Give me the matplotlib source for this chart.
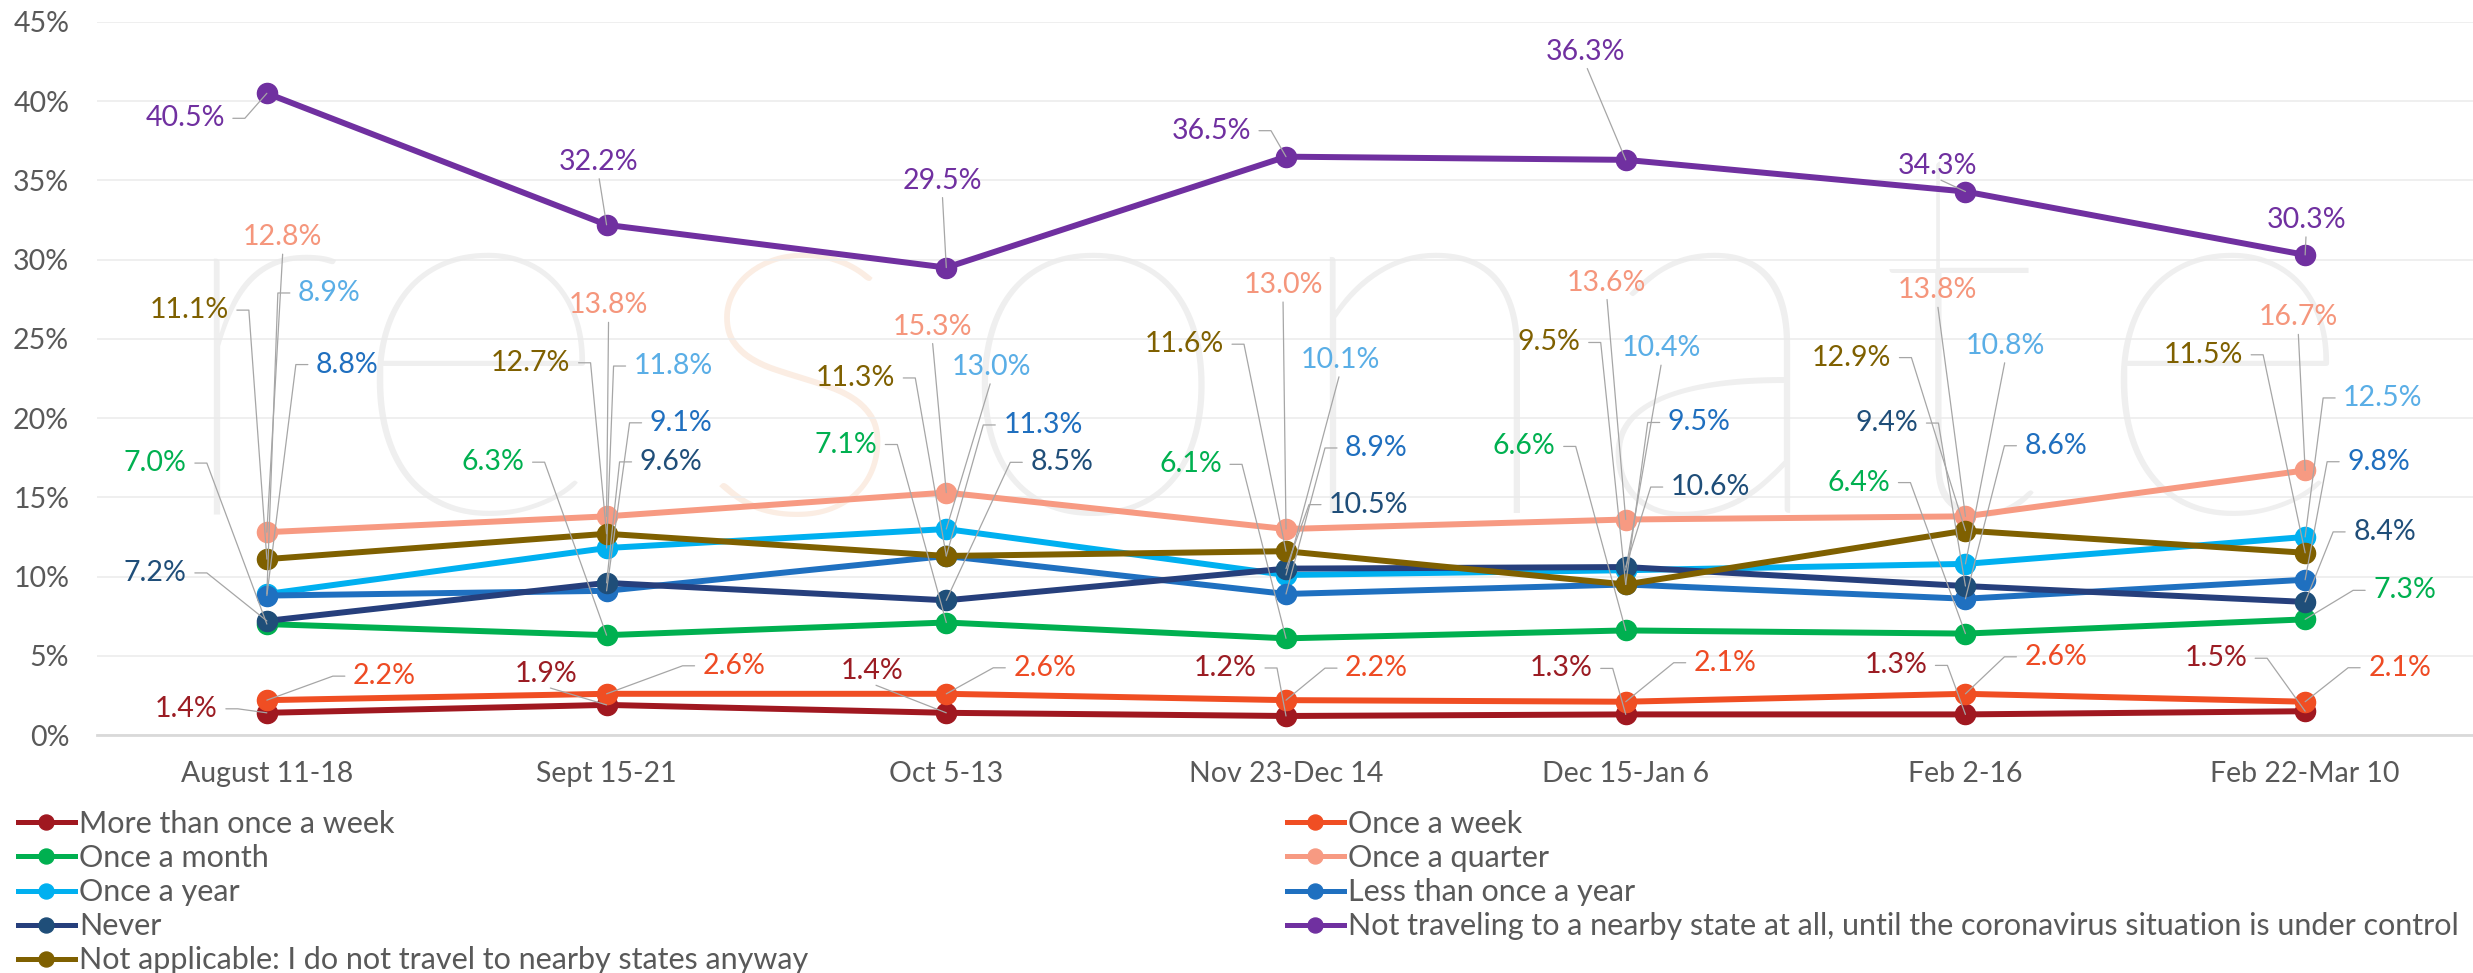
"""
Weekly nearby-state travel frequency survey - line chart with leader-line labels.
"""
import math

import matplotlib

matplotlib.use("Agg")
import matplotlib.pyplot as plt
from matplotlib.lines import Line2D

plt.rcParams["font.family"] = ["Lato", "DejaVu Sans"]

# ---- data -------------------------------------------------------------
categories = ["August 11-18", "Sept 15-21", "Oct 5-13", "Nov 23-Dec 14",
              "Dec 15-Jan 6", "Feb 2-16", "Feb 22-Mar 10"]

more_than_weekly = [1.4, 1.9, 1.4, 1.2, 1.3, 1.3, 1.5]
once_week = [2.2, 2.6, 2.6, 2.2, 2.1, 2.6, 2.1]
once_month = [7.0, 6.3, 7.1, 6.1, 6.6, 6.4, 7.3]
once_quarter = [12.8, 13.8, 15.3, 13.0, 13.6, 13.8, 16.7]
once_year = [8.9, 11.8, 13.0, 10.1, 10.4, 10.8, 12.5]
less_than_year = [8.8, 9.1, 11.3, 8.9, 9.5, 8.6, 9.8]
never = [7.2, 9.6, 8.5, 10.5, 10.6, 9.4, 8.4]
not_traveling = [40.5, 32.2, 29.5, 36.5, 36.3, 34.3, 30.3]
not_applicable = [11.1, 12.7, 11.3, 11.6, 9.5, 12.9, 11.5]

series_names = [
    "More than once a week", "Once a week", "Once a month", "Once a quarter",
    "Once a year", "Less than once a year", "Never",
    "Not traveling to a nearby state at all, until the coronavirus situation is under control",
    "Not applicable: I do not travel to nearby states anyway",
]
series_values = [more_than_weekly, once_week, once_month, once_quarter, once_year,
                 less_than_year, never, not_traveling, not_applicable]

# ---- styles -------------------------------------------------------------
line_colors = ["#A01820", "#F04E23", "#00B050", "#F79A82", "#00B0F0",
               "#1F70C0", "#263F7C", "#7030A0", "#7F6000"]
marker_colors = ["#A01820", "#F04E23", "#00B050", "#F79A82", "#00B0F0",
                 "#1F70C0", "#1F4E79", "#7030A0", "#7F6000"]
label_colors = ["#9B1C23", "#EE4B24", "#00B050", "#F5967C", "#5AAEE6",
                "#1F6FBF", "#1F4E79", "#7030A0", "#7F6000"]

# label placement: (kind, dx, dy) in output pixels, dy measured downward.
# L = label left of point (leader stub on its right), R = right, T = above
label_layout = [
    [("L", -49, -4), ("T", -60, -23), ("T", -74, -34), ("L", -29, -48),
     ("L", -33, -46), ("L", -38, -49), ("L", -58, -53)],
    [("R", 86, -24), ("R", 96, -28), ("R", 67, -26), ("R", 59, -32),
     ("R", 68, -39), ("R", 59, -37), ("R", 63, -34)],
    [("L", -80, -161), ("L", -82, -173), ("L", -69, -178), ("L", -64, -174),
     ("L", -70, -184), ("L", -75, -151), ("R", 68, -29)],
    [("T", 16, -287), ("T", 2, -203), ("T", -14, -158), ("T", -3, -236),
     ("T", -19, -229), ("T", -28, -218), ("T", -7, -145)],
    [("R", 31, -301), ("R", 27, -182), ("T", 45, -154), ("T", 54, -207),
     ("T", 36, -214), ("T", 40, -210), ("R", 38, -139)],
    [("R", 49, -231), ("R", 43, -168), ("R", 57, -131), ("R", 59, -146),
     ("R", 42, -162), ("R", 59, -153), ("R", 42, -118)],
    [("L", -80, -48), ("R", 33, -121), ("R", 84, -138), ("R", 43, -64),
     ("R", 45, -80), ("L", -47, -163), ("R", 48, -70)],
    [("L", -42, 25), ("T", -8, -55), ("T", -4, -79), ("L", -35, -26),
     ("T", -40, -100), ("T", -28, -18), ("T", 1, -27)],
    [("L", -38, -249), ("L", -36, -171), ("L", -51, -178), ("L", -62, -207),
     ("L", -45, -242), ("L", -74, -173), ("L", -62, -198)],
]

FS = 20.5
LEGEND_FS = 22
TEXT_GRAY = "#595959"
LEADER = "#A6A6A6"
STUB_GAP = 8   # px between text and stub
STUB_LEN = 12  # px
W, H = 2473, 973


def add_label(ax, x, y, text, color, kind, dx, dy):
    oy = -dy
    px2pt = 72 / 100
    if kind == "T":
        ax.annotate(text, xy=(x, y), xytext=(dx, oy), textcoords="offset pixels",
                    ha="center", va="baseline", color=color, fontsize=FS,
                    annotation_clip=False, zorder=6,
                    arrowprops=dict(arrowstyle="-", color=LEADER, lw=0.9,
                                    patchA=None, shrinkA=4 * px2pt, shrinkB=0,
                                    relpos=(0.5, 0)))
        return
    sign = 1 if kind == "L" else -1
    cx = dx + sign * (STUB_GAP + STUB_LEN)
    ang_b = math.degrees(math.atan2(oy if abs(oy) > 0.5 else 0.5, cx))
    ax.annotate(text, xy=(x, y), xytext=(dx, oy), textcoords="offset pixels",
                ha="right" if kind == "L" else "left", va="center",
                color=color, fontsize=FS, annotation_clip=False, zorder=6,
                arrowprops=dict(arrowstyle="-", color=LEADER, lw=0.9,
                                patchA=None, shrinkA=STUB_GAP * px2pt, shrinkB=0,
                                relpos=(1, 0.5) if kind == "L" else (0, 0.5),
                                connectionstyle=f"angle,angleA=0,angleB={ang_b},rad=0"))


fig = plt.figure(figsize=(W / 100, H / 100), dpi=100)
ax = fig.add_axes([97 / W, 238 / H, 2378 / W, 713 / H])
ax.set_facecolor("none")

# watermark "resonate"
wm_letters = list("resonate")
wm_x = [255, 478, 800, 1093, 1423, 1712, 1958, 2222]
for ch, xp in zip(wm_letters, wm_x):
    ax.text(xp / W, (H - 513) / H, ch, transform=fig.transFigure, ha="center",
            va="baseline", fontsize=375, fontweight=100,
            color="#FBEDE3" if ch == "s" else "#EFEFEF", zorder=0.1)

x = list(range(len(categories)))
for vals, lc, mc in zip(series_values, line_colors, marker_colors):
    ax.plot(x, vals, color=lc, lw=4.3, marker="o", markersize=14.5,
            markerfacecolor=mc, markeredgecolor=mc, zorder=3,
            solid_capstyle="round")

for vals, name, col, layout in zip(series_values, series_names, label_colors, label_layout):
    for i, (v, (kind, dx, dy)) in enumerate(zip(vals, layout)):
        add_label(ax, i, v, f"{v:.1f}%", col, kind, dx, dy)

ax.set_xlim(-0.5, len(categories) - 0.5)
ax.set_ylim(0, 45)
ax.set_yticks(range(0, 46, 5))
ax.set_yticklabels([f"{t}%" for t in range(0, 46, 5)])
ax.set_xticks(x)
ax.set_xticklabels(categories)
ax.tick_params(axis="both", length=0, labelsize=FS, labelcolor=TEXT_GRAY)
ax.tick_params(axis="y", pad=20)
ax.tick_params(axis="x", pad=19)
ax.grid(axis="y", color="#EBEBEB", lw=1.1)
ax.set_axisbelow(True)
for side in ["top", "right", "left"]:
    ax.spines[side].set_visible(False)
ax.spines["bottom"].set_color("#D9D9D9")
ax.spines["bottom"].set_linewidth(2)

# legend: two columns filled row-wise
handles = [Line2D([0], [0], color=lc, lw=3.6, marker="o", markersize=10.8,
                  markerfacecolor=mc, markeredgecolor=mc)
           for lc, mc in zip(line_colors, marker_colors)]
col1 = [0, 2, 4, 6, 8]
col2 = [1, 3, 5, 7]
for idxs, xpx in [(col1, 18), (col2, 1287)]:
    leg = fig.legend([handles[i] for i in idxs], [series_names[i] for i in idxs],
                     loc="upper left", bbox_to_anchor=(xpx / W, (H - 810) / H),
                     frameon=False, fontsize=LEGEND_FS, borderpad=0, borderaxespad=0,
                     handlelength=1.86, handletextpad=0.13, labelspacing=0.2)
    for t in leg.get_texts():
        t.set_color(TEXT_GRAY)

fig.savefig("out.png", dpi=100)
